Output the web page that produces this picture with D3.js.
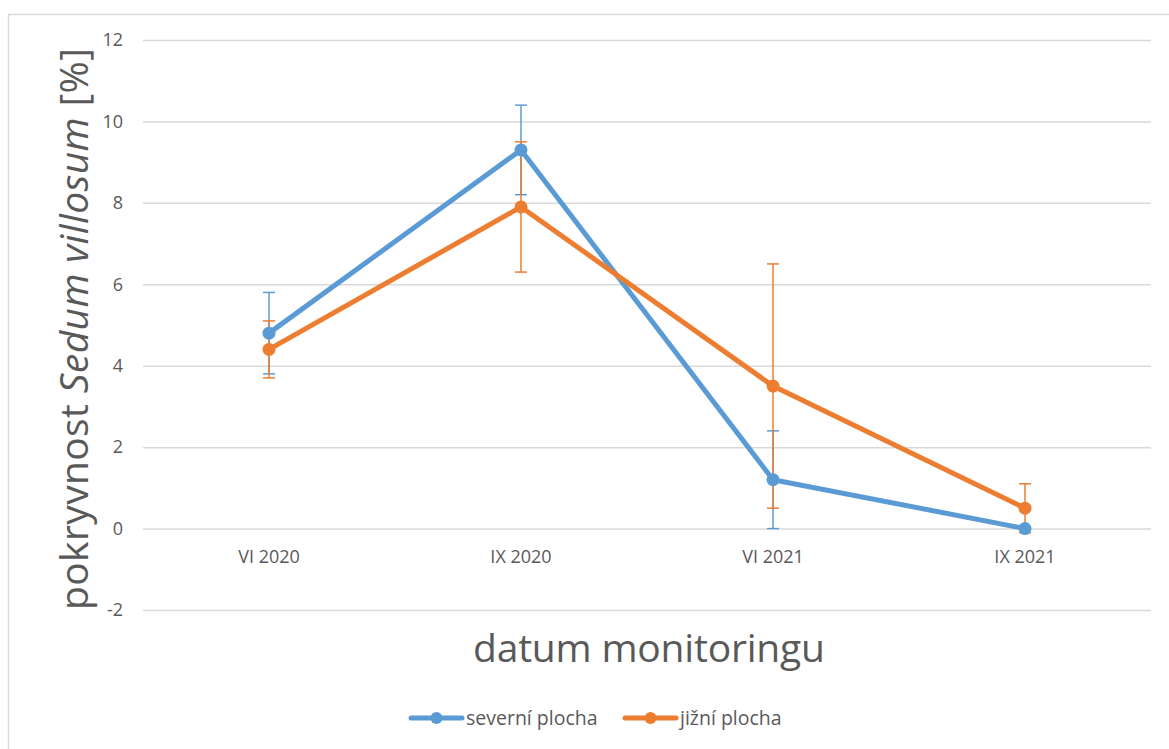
<!DOCTYPE html>
<html>
<head>
<meta charset="utf-8">
<script src="https://cdn.jsdelivr.net/npm/d3@7"></script>
<style>
  body { margin: 0; background: #fff; }
  text { font-family: "Open Sans", sans-serif; fill: #595959; }
</style>
</head>
<body>
<script>
const dates = ['VI 2020', 'IX 2020', 'VI 2021', 'IX 2021'];
const severni = [4.8, 9.3, 1.2, 0.0];
const severniErr = [1.0, 1.1, 1.2, 0.0];
const jizni = [4.4, 7.9, 3.5, 0.5];
const jizniErr = [0.7, 1.6, 3.0, 0.6];
const yTicks = [-2, 0, 2, 4, 6, 8, 10, 12];

const series = [
  { name: 'severní plocha', values: severni, err: severniErr, color: '#5B9BD5' },
  { name: 'jižní plocha', values: jizni, err: jizniErr, color: '#ED7D31' }
];

const W = 1169, H = 749;
const margin = { top: 40, right: 18, bottom: 139, left: 143 };

const svg = d3.select('body').append('svg')
  .attr('width', W)
  .attr('height', H);

// chart frame
svg.append('rect')
  .attr('x', 8.5).attr('y', 14.5)
  .attr('width', W + 20).attr('height', H + 20)
  .attr('fill', 'none')
  .attr('stroke', '#d9d9d9')
  .attr('stroke-width', 1.5);

const xScale = d3.scaleBand()
  .domain(dates)
  .range([margin.left, W - margin.right]);

const yScale = d3.scaleLinear()
  .domain([-2, 12])
  .range([H - margin.bottom, margin.top]);

// gridlines + y labels
const yAxis = d3.axisLeft(yScale)
  .tickValues(yTicks)
  .tickFormat(d => String(d))
  .tickSize(-(W - margin.right - margin.left))
  .tickPadding(20);

svg.append('g')
  .attr('class', 'y axis')
  .attr('transform', `translate(${margin.left}, 0)`)
  .call(yAxis)
  .call(g => g.select('.domain').remove())
  .call(g => g.selectAll('.tick line').attr('stroke', '#d9d9d9').attr('stroke-width', 1.5))
  .call(g => g.selectAll('.tick text').style('font-size', '18px').style('fill', '#595959'));

// category labels
const xAxis = d3.axisBottom(xScale).tickSize(0).tickPadding(22);
svg.append('g')
  .attr('class', 'x axis')
  .attr('transform', `translate(0, ${yScale(0)})`)
  .call(xAxis)
  .call(g => g.select('.domain').remove())
  .call(g => g.selectAll('.tick text').style('font-size', '18px').style('fill', '#595959'));

const cx = d => xScale(d) + xScale.bandwidth() / 2;

// error bars
series.forEach(s => {
  const g = svg.append('g');
  dates.forEach((d, i) => {
    const x = cx(d);
    const lo = yScale(s.values[i] - s.err[i]);
    const hi = yScale(s.values[i] + s.err[i]);
    if (s.err[i] === 0) return;
    g.append('line').attr('x1', x).attr('x2', x).attr('y1', lo).attr('y2', hi)
      .attr('stroke', s.color).attr('stroke-width', 1.5);
    [lo, hi].forEach(y => g.append('line')
      .attr('x1', x - 6).attr('x2', x + 6).attr('y1', y).attr('y2', y)
      .attr('stroke', s.color).attr('stroke-width', 1.5));
  });
});

const line = d3.line()
  .x((v, i) => cx(dates[i]))
  .y(v => yScale(v));

series.forEach(s => {
  svg.append('path')
    .datum(s.values)
    .attr('d', line)
    .attr('fill', 'none')
    .attr('stroke', s.color)
    .attr('stroke-width', 5)
    .attr('stroke-linejoin', 'round');
  svg.selectAll(null).data(s.values).enter()
    .append('circle')
    .attr('cx', (v, i) => cx(dates[i]))
    .attr('cy', v => yScale(v))
    .attr('r', 6.5)
    .attr('fill', s.color);
});

// axis titles
const yTitle = svg.append('text')
  .attr('transform', `translate(88, ${(margin.top + H - margin.bottom) / 2 + 4}) rotate(-90)`)
  .style('text-anchor', 'middle')
  .style('font-size', '39px')
  .attr('textLength', 562)
  .attr('lengthAdjust', 'spacing');
yTitle.append('tspan').text('pokryvnost ');
yTitle.append('tspan').style('font-style', 'italic').text('Sedum villosum');
yTitle.append('tspan').text(' [%]');

svg.append('text')
  .attr('x', 649)
  .attr('y', 662)
  .style('text-anchor', 'middle')
  .style('font-size', '39px')
  .attr('textLength', 352)
  .attr('lengthAdjust', 'spacing')
  .text('datum monitoringu');

// legend
const legendX = [411, 625];
series.forEach((s, i) => {
  const g = svg.append('g').attr('transform', `translate(${legendX[i]}, 718)`);
  g.append('line').attr('x1', 0).attr('x2', 51).attr('y1', 0).attr('y2', 0)
    .attr('stroke', s.color).attr('stroke-width', 5).attr('stroke-linecap', 'round');
  g.append('circle').attr('cx', 25.5).attr('cy', 0).attr('r', 6).attr('fill', s.color);
  g.append('text').attr('x', 55).attr('y', 7)
    .style('font-size', '19.5px')
    .text(s.name);
});
</script>
</body>
</html>
